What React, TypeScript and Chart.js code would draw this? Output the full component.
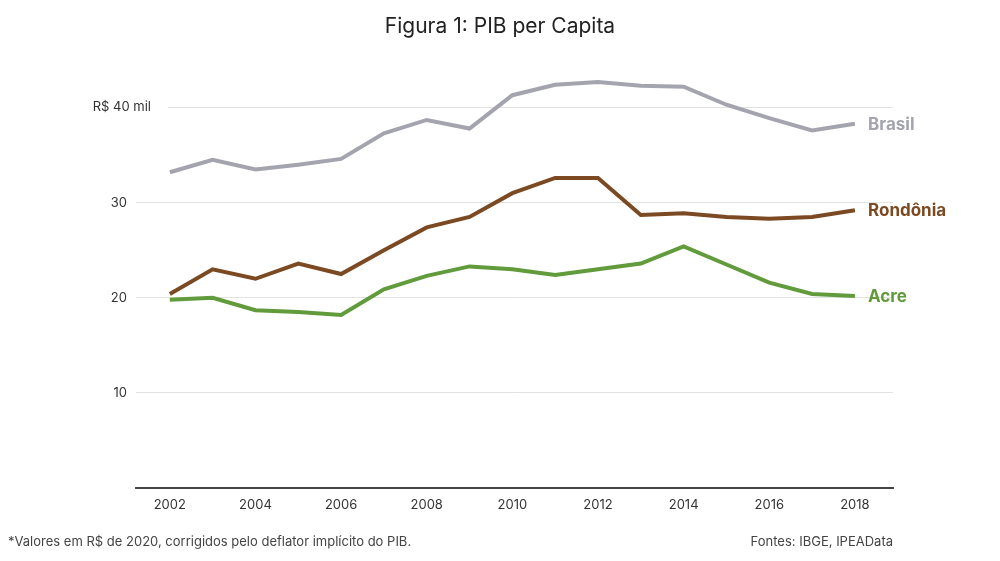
import React, { useEffect, useRef } from "react";
import { Chart, registerables } from "chart.js";
Chart.register(...registerables);

const years = [2002,2003,2004,2005,2006,2007,2008,2009,2010,2011,2012,2013,2014,2015,2016,2017,2018];
const brasil = [33.2,34.5,33.5,34.0,34.6,37.3,38.7,37.8,41.3,42.4,42.7,42.3,42.2,40.3,38.9,37.6,38.3];
const rondonia = [20.4,23.0,22.0,23.6,22.5,25.0,27.4,28.5,31.0,32.6,32.6,28.7,28.9,28.5,28.3,28.5,29.2];
const acre = [19.8,20.0,18.7,18.5,18.2,20.9,22.3,23.3,23.0,22.4,23.0,23.6,25.4,23.5,21.6,20.4,20.2];
const xTicks = [2002,2004,2006,2008,2010,2012,2014,2016,2018];
const yTicks = [10,20,30,40];
const yLabels = ["10","20","30","R$ 40 mil"];

const FONT = "Inter, 'Noto Sans', sans-serif";
const C_BR = "#a4a4ae", C_RO = "#7b4a22", C_AC = "#619b3b";

export default function App() {
  const ref = useRef<HTMLCanvasElement>(null);
  useEffect(() => {
    const pts = (a: number[]) => years.map((y, i) => ({ x: y, y: a[i] }));
    const plugin = {
      id: "custom",
      beforeDatasetsDraw(chart: any) {
        const { ctx, scales: { y }, chartArea } = chart;
        ctx.save();
        ctx.fillStyle = "#fff";
        ctx.fillRect(chartArea.left, y.getPixelForValue(40) - 8, 32, 16);
        ctx.restore();
      },
      afterDraw(chart: any) {
        const { ctx, scales: { x, y } } = chart;
        ctx.save();
        ctx.fillStyle = "#222";
        ctx.font = `21px ${FONT}`;
        ctx.textAlign = "center";
        ctx.textBaseline = "middle";
        ctx.fillText("Figura 1: PIB per Capita", 500, 27);
        ctx.font = `13px ${FONT}`;
        ctx.fillStyle = "#333";
        xTicks.forEach(t => ctx.fillText(String(t), x.getPixelForValue(t), 505));
        ctx.textAlign = "right";
        yTicks.forEach((t, i) => ctx.fillText(yLabels[i], i === 3 ? 151 : 127, y.getPixelForValue(t)));
        ctx.textAlign = "left";
        ctx.font = `bold 17px ${FONT}`;
        const lab: [string, string, number[]][] = [["Brasil", C_BR, brasil], ["Rondônia", C_RO, rondonia], ["Acre", C_AC, acre]];
        lab.forEach(([n, c, a]) => { ctx.fillStyle = c; ctx.fillText(n, 868, y.getPixelForValue(a[a.length - 1]) + 1); });
        ctx.font = `13px ${FONT}`;
        ctx.fillStyle = "#444";
        ctx.fillText("*Valores em R$ de 2020, corrigidos pelo deflator implícito do PIB.", 8, 542);
        ctx.textAlign = "right";
        ctx.fillText("Fontes: IBGE, IPEAData", 893, 542);
        ctx.restore();
      },
    };
    const ds = (label: string, data: number[], c: string) => ({
      label, data: pts(data), borderColor: c, backgroundColor: c, borderWidth: 4,
      pointRadius: 0, tension: 0, borderJoinStyle: "miter" as const,
    });
    const chart = new Chart(ref.current!, {
      type: "line",
      data: { datasets: [ds("Brasil", brasil, C_BR), ds("Rondônia", rondonia, C_RO), ds("Acre", acre, C_AC)] },
      options: {
        animation: false, responsive: false,
        layout: { padding: { left: 136, right: 107, top: 41, bottom: 73 } },
        plugins: { legend: { display: false }, tooltip: { enabled: false } },
        scales: {
          x: {
            type: "linear", min: 2001.21, max: 2018.89,
            ticks: { display: false }, grid: { display: false, drawTicks: false },
            border: { display: true, color: "#444", width: 2 },
          },
          y: {
            min: 0, max: 47,
            afterBuildTicks: (s: any) => { s.ticks = yTicks.map(v => ({ value: v })); },
            ticks: { display: false },
            grid: { color: "#e2e2e2", lineWidth: 1, drawTicks: false },
            border: { display: false },
          },
        },
      },
      plugins: [plugin],
    });
    return () => chart.destroy();
  }, []);
  return <div style={{ position: "fixed", left: 0, top: 0, background: "#fff" }}>
    <canvas ref={ref} width={1000} height={561} style={{ width: 1000, height: 561, display: "block" }} />
  </div>;
}
